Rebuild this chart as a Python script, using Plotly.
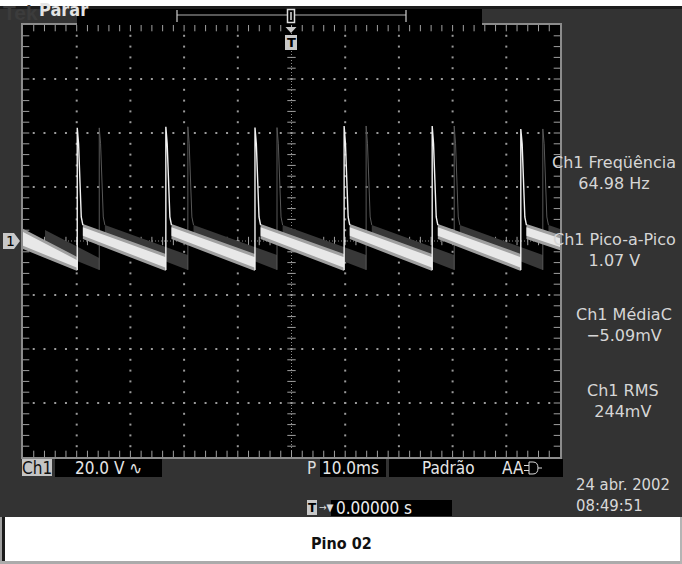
import plotly.graph_objects as go

# ---------------- data (time in ms, amplitude in V; 10 ms/div, 20 V/div) ----------------
spike_t = [-39.9, -23.4, -6.8, 9.8, 26.2, 42.7]          # main trace spike instants
spike_peak = [41.9, 42.3, 42.0, 42.6, 42.6, 41.5]        # spike peak values
decay_dt = [0.25, 0.55, 0.75, 1.05]                      # fall-back offsets after spike
decay_v = [36.0, 21.5, 8.9, 5.9]                         # values while falling back
rise_from_v = -10.7                                      # level where the rising edge starts

band_t0 = [-50.0, -38.85, -22.35, -5.75, 10.85, 27.25, 43.75]
band_t1 = [-39.9, -23.4, -6.8, 9.8, 26.2, 42.7, 50.0]
band_hi0 = [4.1, 5.9, 5.9, 5.9, 5.9, 5.9, 5.9]
band_lo0 = [-2.6, 1.1, 1.1, 1.1, 1.1, 1.1, 1.1]
band_hi1 = [-6.3, -5.2, -5.2, -5.2, -5.2, -5.2, 1.8]
band_lo1 = [-10.7, -10.7, -10.7, -10.7, -10.7, -10.7, -3.0]
ghost_shift = 4.1                                        # persistence ghost delay (ms)

meas_labels = ["Ch1 Freqüência", "Ch1 Pico-a-Pico", "Ch1 MédiaC", "Ch1 RMS"]
meas_values = ["64.98 Hz", "1.07 V", "−5.09mV", "244mV"]

x_range = [-50, 50]
y_range = [-80, 80]
x_div, y_div = 10, 20

# ---------------- geometry helpers ----------------
L, R, T, B = 23, 560, 25, 457
W, H = 682, 564


def P(x):
    return (x - L) / (R - L)


def Q(y):
    return (B - y) / (B - T)


NARROW = "Liberation Sans Narrow, DejaVu Sans Condensed, Arial Narrow, sans-serif"
SANS = "DejaVu Sans, Verdana, sans-serif"

fig = go.Figure()

# ---------------- graticule ----------------
x_major = [v for v in range(x_range[0] + x_div, x_range[1], x_div) if v != 0]
y_major = [v for v in range(y_range[0] + y_div, y_range[1], y_div) if v != 0]
x_minor = list(range(x_range[0] + 2, x_range[1], 2))
y_minor = list(range(y_range[0] + 4, y_range[1], 4))

gx, gy = [], []
for xv in x_major:
    for yv in y_minor:
        gx.append(xv)
        gy.append(yv)
for yv in y_major:
    for xv in x_minor:
        gx.append(xv)
        gy.append(yv)
fig.add_trace(go.Scatter(x=gx, y=gy, mode="markers", hoverinfo="skip",
                         marker=dict(symbol="square", size=2, color="#9a9a9a",
                                     line=dict(width=0))))

# centre-line ticks
fig.add_trace(go.Scatter(x=x_minor, y=[0] * len(x_minor), mode="markers", hoverinfo="skip",
                         marker=dict(symbol="line-ns", size=6, line=dict(width=1, color="#a0a0a0"))))
fig.add_trace(go.Scatter(x=[0] * len(y_minor), y=y_minor, mode="markers", hoverinfo="skip",
                         marker=dict(symbol="line-ew", size=6, line=dict(width=1, color="#a0a0a0"))))
# border ticks
fig.add_trace(go.Scatter(x=x_minor * 2, y=[y_range[0]] * len(x_minor) + [y_range[1]] * len(x_minor),
                         mode="markers", hoverinfo="skip", cliponaxis=True,
                         marker=dict(symbol="line-ns", size=9, line=dict(width=1, color="#a0a0a0"))))
fig.add_trace(go.Scatter(x=[x_range[0]] * len(y_minor) + [x_range[1]] * len(y_minor), y=y_minor * 2,
                         mode="markers", hoverinfo="skip", cliponaxis=True,
                         marker=dict(symbol="line-ew", size=9, line=dict(width=1, color="#a0a0a0"))))


# ---------------- waveform helpers ----------------
def band_poly(shift, grow):
    xs, ys = [], []
    for t0, t1, h0, l0, h1, l1 in zip(band_t0, band_t1, band_hi0, band_lo0, band_hi1, band_lo1):
        a, b = t0 + shift, t1 + shift
        xs += [a, b, b, a, a, None]
        ys += [h0 + grow, h1 + grow, l1 - grow, l0 - grow, h0 + grow, None]
    return xs, ys


def spike_line(shift):
    xs, ys = [], []
    for s, pk in zip(spike_t, spike_peak):
        xs += [s + shift, s + shift] + [s + shift + d for d in decay_dt] + [None]
        ys += [rise_from_v, pk] + decay_v + [None]
    return xs, ys


# ghost (persistence) trace
gxp, gyp = band_poly(ghost_shift, 0.0)
fig.add_trace(go.Scatter(x=gxp, y=gyp, mode="lines", fill="toself", fillcolor="#383838",
                         line=dict(width=0, color="#383838"), hoverinfo="skip"))
gsx, gsy = spike_line(ghost_shift)
fig.add_trace(go.Scatter(x=gsx, y=gsy, mode="lines", line=dict(width=1, color="#585858"),
                         hoverinfo="skip"))

# main trace: body and core
for grow, col in [(0.4, "#a0a0a0"), (-0.8, "#e8e8e8")]:
    bx, by = band_poly(0.0, grow)
    fig.add_trace(go.Scatter(x=bx, y=by, mode="lines", fill="toself", fillcolor=col,
                             line=dict(width=0, color=col), hoverinfo="skip"))
sx, sy = spike_line(0.0)
fig.add_trace(go.Scatter(x=sx, y=sy, mode="lines", line=dict(width=1.4, color="#f2f2f2"),
                         hoverinfo="skip"))

# ---------------- shapes ----------------
shapes = []


def rect(x0, y0, x1, y1, fill, line=None, lw=0, layer="above"):
    shapes.append(dict(type="rect", xref="paper", yref="paper",
                       x0=P(x0), x1=P(x1), y0=Q(y1), y1=Q(y0),
                       fillcolor=fill, layer=layer,
                       line=dict(width=lw, color=line or fill)))


def seg(x0, y0, x1, y1, color, width=1, dash=None, layer="above"):
    d = dict(type="line", xref="paper", yref="paper", x0=P(x0), x1=P(x1), y0=Q(y0), y1=Q(y1),
             layer=layer, line=dict(color=color, width=width))
    if dash:
        d["line"]["dash"] = dash
    shapes.append(d)


def path(pts, fill, line=None, lw=0):
    s = "M " + " L ".join(f"{P(x):.5f},{Q(y):.5f}" for x, y in pts) + " Z"
    shapes.append(dict(type="path", xref="paper", yref="paper", path=s, fillcolor=fill,
                       layer="above", line=dict(width=lw, color=line or fill)))


# centre cross dotted lines (data coords)
shapes.append(dict(type="line", xref="x", yref="y", x0=x_range[0], x1=x_range[1], y0=0, y1=0,
                   layer="below", line=dict(color="#8a8a8a", width=1, dash="1px,2px")))
shapes.append(dict(type="line", xref="x", yref="y", x0=0, x1=0, y0=y_range[0], y1=y_range[1],
                   layer="below", line=dict(color="#8a8a8a", width=1, dash="1px,2px")))

# frame: top white strip, dark line
rect(0, 0, W, 6, "#ffffff")
rect(0, 6, W, 9, "#1d1d1d")
# caption area
rect(0, 517, W, H, "#ffffff")
rect(0, 517, 2, H, "#a0a0a0")
rect(2, 517, 5, 562, "#1c1c1c")
rect(0, 561, W, H, "#ababab")
rect(680, 517, W, H, "#b4b4b4")

# header bar
rect(77, 9, 482, 25, "#000000")
seg(177, 15, 406, 15, "#b0b0b0", 1)
seg(177, 10, 177, 22, "#cfcfcf", 1.2)
seg(406, 10, 406, 22, "#cfcfcf", 1.2)
rect(287.5, 9.5, 294.5, 22.5, "#000000", "#dcdcdc", 1.5)
seg(291, 12, 291, 20, "#dcdcdc", 1.5)
# trigger markers
path([(285.5, 27), (296.5, 27), (291, 33)], "#c8c8c8")
rect(285, 35, 297, 50, "#c8c8c8", "#c8c8c8", 0)
# channel marker
path([(3, 233), (14, 233), (20, 241), (14, 249), (3, 249)], "#c8c8c8")

# bottom row boxes
rect(22, 459, 52, 476, "#c4c4c4")
rect(55, 459, 162, 477, "#000000")
rect(320, 459, 386, 477, "#000000")
rect(389, 459, 563, 477, "#000000")
rect(307, 500, 317, 515, "#c8c8c8")
rect(331, 500, 452, 516, "#000000")
# trigger coupling symbol
seg(524, 465.5, 529, 465.5, "#dcdcdc", 1)
seg(524, 470.5, 529, 470.5, "#dcdcdc", 1)
shapes.append(dict(type="path", xref="paper", yref="paper",
                   path=(f"M {P(529):.5f},{Q(462):.5f} L {P(533):.5f},{Q(462):.5f} "
                         f"Q {P(538):.5f},{Q(462):.5f} {P(538):.5f},{Q(468):.5f} "
                         f"Q {P(538):.5f},{Q(474):.5f} {P(533):.5f},{Q(474):.5f} "
                         f"L {P(529):.5f},{Q(474):.5f} Z"),
                   line=dict(color="#dcdcdc", width=1), fillcolor="rgba(0,0,0,0)", layer="above"))
seg(538, 468, 542, 468, "#dcdcdc", 1)

# ---------------- annotations ----------------
anns = []


def ann(text, x, y, size, color, xanchor="left", family=NARROW, bg=None, bold=False, align="left"):
    if bold:
        text = f"<b>{text}</b>"
    d = dict(text=text, x=P(x), y=Q(y), xref="paper", yref="paper", showarrow=False,
             xanchor=xanchor, yanchor="middle", align=align,
             font=dict(size=size, color=color, family=family), borderpad=0)
    if bg:
        d["bgcolor"] = bg
    anns.append(d)


ann("Tek", 2, 12, 21, "#3c3c3c", family="Liberation Sans, Arial, sans-serif", bold=True)
ann("Parar", 38, 10, 18, "#e4e4e4", bold=True)
ann("T", 291, 43, 13, "#000000", xanchor="center", family="DejaVu Sans, sans-serif", bold=True)
ann("1", 10.5, 241, 14, "#000000", xanchor="center", family=SANS)

meas_pos = [(614, 173), (614, 249.5), (624, 324.5), (623, 400.5)]
for lab, val, (mx, my) in zip(meas_labels, meas_values, meas_pos):
    ann(f"{lab}<br>{val}", mx, my, 16, "#d6d6d6", xanchor="center", family=SANS, align="center")

ann("Ch1", 37, 468, 17, "#111111", xanchor="center")
ann("20.0 V ∿", 74, 468, 17, "#e6e6e6")
ann("P", 311, 468, 17, "#dcdcdc", xanchor="center")
ann("10.0ms", 321, 468, 17, "#e6e6e6")
ann("Padrão", 448, 468, 17, "#e6e6e6", xanchor="center")
ann("AA", 513, 468, 17, "#e6e6e6", xanchor="center")
ann("T", 312, 507.5, 12, "#000000", xanchor="center", family="DejaVu Sans, sans-serif", bold=True)
ann("→▼", 318, 507, 10, "#dcdcdc")
ann("0.00000 s", 335, 508, 17, "#eeeeee")
ann("24 abr. 2002<br>08:49:51", 575, 494.5, 16.5, "#d8d8d8")
ann("Pino 02", 341, 543, 16, "#111111", xanchor="center", bold=True)

# ---------------- layout ----------------
axis_common = dict(showgrid=False, zeroline=False, showticklabels=False, ticks="",
                   showline=True, mirror=True, linecolor="#8c8c8c", linewidth=2, fixedrange=True)
fig.update_layout(
    width=W, height=H,
    margin=dict(l=L, r=W - R, t=T, b=H - B, pad=0, autoexpand=False),
    paper_bgcolor="#333333", plot_bgcolor="#000000",
    showlegend=False,
    xaxis=dict(range=x_range, **axis_common),
    yaxis=dict(range=y_range, **axis_common),
    shapes=shapes, annotations=anns,
)

fig.write_html("out.html", config={"displayModeBar": False},
               post_script="document.body.style.margin='0';document.body.style.overflow='hidden';")
